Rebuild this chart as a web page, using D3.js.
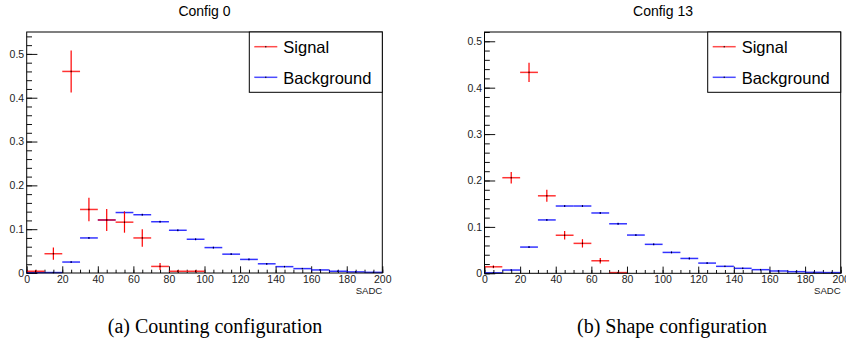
<!DOCTYPE html>
<html>
<head>
<meta charset="utf-8">
<script src="https://cdn.jsdelivr.net/npm/d3@7"></script>
<style>
  body { margin: 0; background: #fff; }
  svg { display: block; }
  .tick text { font-family: "Liberation Sans", Arial, sans-serif; font-size: 10.5px; fill: #222; }
  .tick line { stroke: #111; }
</style>
</head>
<body>
<div id="chart"></div>
<script>
// bins: 20 bins of width 10 over SADC 0..200
const binLow = [0, 10, 20, 30, 40, 50, 60, 70, 80, 90, 100, 110, 120, 130, 140, 150, 160, 170, 180, 190];
const binWidth = 10;

// Config 0 (counting)
const sig0    = [0.004, 0.044, 0.460, 0.145, 0.121, 0.116, 0.080, 0.015, 0.004, 0.004, 0, 0, 0, 0, 0, 0, 0, 0, 0, 0];
const sig0Err = [0.003, 0.014, 0.048, 0.027, 0.025, 0.024, 0.020, 0.008, 0.003, 0.003, 0, 0, 0, 0, 0, 0, 0, 0, 0, 0];
const bkg0    = [0.001, 0.001, 0.025, 0.080, 0.121, 0.138, 0.133, 0.117, 0.0975, 0.077, 0.058, 0.043, 0.031, 0.021, 0.0145, 0.010, 0.007, 0.004, 0.0025, 0.0015];
const bkg0Err = [0.001, 0.001, 0.002, 0.002, 0.002, 0.002, 0.002, 0.002, 0.002, 0.002, 0.002, 0.002, 0.002, 0.002, 0.001, 0.001, 0.001, 0.001, 0.001, 0.001];

// Config 13 (shape)
const sig13    = [0.014, 0.206, 0.433, 0.167, 0.082, 0.0645, 0.027, 0.0015, 0, 0, 0, 0, 0, 0, 0, 0, 0, 0, 0, 0];
const sig13Err = [0.003, 0.0125, 0.021, 0.013, 0.009, 0.009, 0.006, 0.001, 0, 0, 0, 0, 0, 0, 0, 0, 0, 0, 0, 0];
const bkg13    = [0.001, 0.007, 0.0565, 0.115, 0.145, 0.145, 0.130, 0.1067, 0.0824, 0.0624, 0.045, 0.032, 0.022, 0.015, 0.0107, 0.0078, 0.005, 0.0035, 0.002, 0.0015];
const bkg13Err = [0.001, 0.001, 0.002, 0.002, 0.002, 0.002, 0.002, 0.002, 0.002, 0.002, 0.002, 0.002, 0.002, 0.001, 0.001, 0.001, 0.001, 0.001, 0.001, 0.001];

// axis ticks and labels
const xTicks = [0, 20, 40, 60, 80, 100, 120, 140, 160, 180, 200];
const yTicks = [0, 0.1, 0.2, 0.3, 0.4, 0.5];
const legendLabels = ["Signal", "Background"];
const titles = ["Config 0", "Config 13"];
const captions = ["(a) Counting configuration", "(b) Shape configuration"];
const xTitle = "SADC";

const W = 846, H = 352;
const sigColor = "#ff0000", bkgColor = "#0000ff";

const svg = d3.select("#chart").append("svg")
    .attr("width", W)
    .attr("height", H);

// two pads, frame positions
const pads = [
    {left: 26.7, top: 32, right: 382.3, bottom: 273, yMax: 0.55, sig: sig0, sigErr: sig0Err, bkg: bkg0, bkgErr: bkg0Err, titleX: 204.5, capX: 215},
    {left: 484.5, top: 32, right: 840.7, bottom: 273.3, yMax: 0.52, sig: sig13, sigErr: sig13Err, bkg: bkg13, bkgErr: bkg13Err, titleX: 663, capX: 672}
];

pads.forEach((p, i) => {
    let g = svg.append("g");

    let x = d3.scaleLinear().domain([0, 200]).range([p.left, p.right]);
    let y = d3.scaleLinear().domain([0, p.yMax]).range([p.bottom, p.top]);

    // title
    g.append("text")
        .attr("x", p.titleX)
        .attr("y", 16)
        .attr("text-anchor", "middle")
        .style("font-family", "'Liberation Sans', Arial, sans-serif")
        .style("font-size", "14px")
        .style("fill", "#000")
        .text(titles[i]);

    // minor y ticks
    let yMinor = d3.range(0, p.yMax + 1e-9, 0.02);
    g.append("g")
        .attr("transform", `translate(${p.left},0)`)
        .call(d3.axisLeft(y).tickValues(yMinor).tickSizeInner(-5.3).tickSizeOuter(0).tickFormat(""))
        .call(a => a.select(".domain").remove());
    // major y ticks
    g.append("g")
        .attr("transform", `translate(${p.left},0)`)
        .call(d3.axisLeft(y).tickValues(yTicks).tickSizeInner(-10.7).tickSizeOuter(0).tickPadding(2.5)
            .tickFormat(d => d === 0 ? "0" : d3.format(".1f")(d)))
        .call(a => a.select(".domain").remove());

    // minor x ticks
    g.append("g")
        .attr("transform", `translate(0,${p.bottom})`)
        .call(d3.axisBottom(x).tickValues(d3.range(0, 201, 5)).tickSizeInner(-3.3).tickSizeOuter(0).tickFormat(""))
        .call(a => a.select(".domain").remove());
    // major x ticks
    g.append("g")
        .attr("transform", `translate(0,${p.bottom})`)
        .call(d3.axisBottom(x).tickValues(xTicks).tickSizeInner(-6.7).tickSizeOuter(0).tickPadding(2.5))
        .call(a => a.select(".domain").remove());

    // x axis title
    g.append("text")
        .attr("x", p.right)
        .attr("y", p.bottom + 21)
        .attr("text-anchor", "end")
        .style("font-family", "'Liberation Sans', Arial, sans-serif")
        .style("font-size", "9.6px")
        .style("fill", "#222")
        .text(xTitle);

    // histograms with error bars
    function drawHist(vals, errs, color, cls) {
        let data = binLow.map((lo, j) => ({lo: lo, v: vals[j], e: errs[j]})).filter(d => d.v > 0);
        let hg = g.append("g").attr("class", cls);
        hg.selectAll("line.h").data(data).enter().append("line")
            .attr("class", "h")
            .attr("x1", d => x(d.lo)).attr("x2", d => x(d.lo + binWidth))
            .attr("y1", d => y(d.v)).attr("y2", d => y(d.v))
            .attr("stroke", color).attr("stroke-width", 1.5).attr("stroke-opacity", 0.8);
        hg.selectAll("line.v").data(data).enter().append("line")
            .attr("class", "v")
            .attr("x1", d => x(d.lo + binWidth / 2)).attr("x2", d => x(d.lo + binWidth / 2))
            .attr("y1", d => y(Math.max(0, d.v - d.e))).attr("y2", d => y(d.v + d.e))
            .attr("stroke", color).attr("stroke-width", 1.2);
        // marker
        hg.selectAll("rect.m").data(data).enter().append("rect")
            .attr("class", "m")
            .attr("x", d => x(d.lo + binWidth / 2) - 0.5)
            .attr("y", d => y(d.v) - 0.75)
            .attr("width", 1).attr("height", 1.5)
            .attr("fill", "#000");
    }
    drawHist(p.bkg, p.bkgErr, bkgColor, "bkg");
    drawHist(p.sig, p.sigErr, sigColor, "sig");

    // frame
    g.append("rect")
        .attr("x", p.left).attr("y", p.top)
        .attr("width", p.right - p.left).attr("height", p.bottom - p.top)
        .attr("fill", "none").attr("stroke", "#000").attr("stroke-width", 1);

    // legend
    let lx0 = p.right - 133, ly0 = p.top, lw = 133, lh = 60.3;
    let lg = g.append("g");
    lg.append("rect")
        .attr("x", lx0).attr("y", ly0).attr("width", lw).attr("height", lh)
        .attr("fill", "#fff").attr("stroke", "#000").attr("stroke-width", 1);
    [sigColor, bkgColor].forEach((c, k) => {
        let ly = ly0 + 14.7 + k * 30.6;
        lg.append("line")
            .attr("x1", lx0 + 5).attr("x2", lx0 + 28)
            .attr("y1", ly).attr("y2", ly)
            .attr("stroke", c).attr("stroke-width", 1.5).attr("stroke-opacity", 0.7);
        lg.append("rect")
            .attr("x", lx0 + 16).attr("y", ly - 0.75).attr("width", 1).attr("height", 1.5)
            .attr("fill", "#000");
        lg.append("text")
            .attr("x", lx0 + 34)
            .attr("y", ly + 6.5)
            .style("font-family", "'Liberation Sans', Arial, sans-serif")
            .style("font-size", "16.5px")
            .style("fill", "#000")
            .text(legendLabels[k]);
    });

    // caption
    svg.append("text")
        .attr("x", p.capX)
        .attr("y", 333)
        .attr("text-anchor", "middle")
        .style("font-family", "'Liberation Serif', 'Times New Roman', serif")
        .style("font-size", "20px")
        .style("fill", "#000")
        .text(captions[i]);
});
</script>
</body>
</html>
